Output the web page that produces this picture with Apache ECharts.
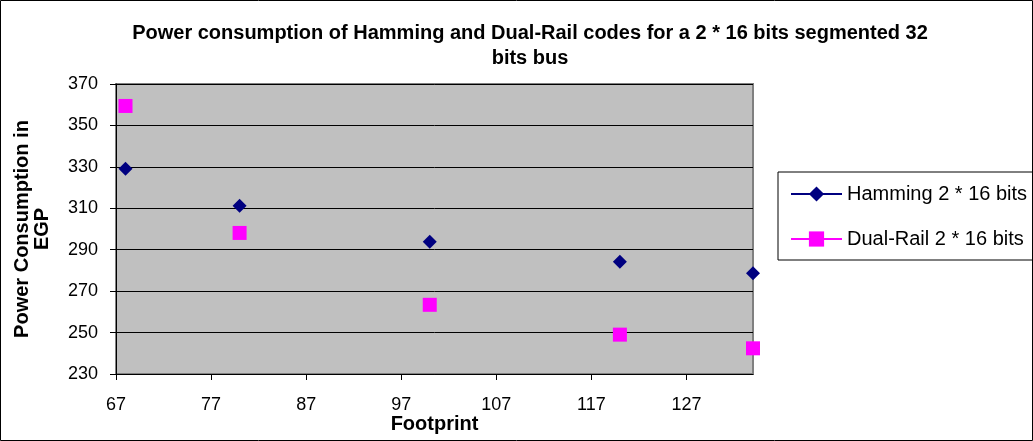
<!DOCTYPE html>
<html><head><meta charset="utf-8">
<script src="https://cdn.jsdelivr.net/npm/echarts@6/dist/echarts.min.js"></script>
<style>html,body{margin:0;padding:0;background:#fff}#c{width:1033px;height:441px}</style>
</head><body><div id="c"></div>
<script>
var footprint = [68, 80, 100, 120, 134];
var hamming = [329.1, 311.2, 293.9, 284.2, 278.6];
var dualRail = [359.4, 298.1, 263.4, 249.0, 242.4];
var seriesNames = ['Hamming 2 * 16 bits', 'Dual-Rail 2 * 16 bits'];
var titleText = 'Power consumption of Hamming and Dual-Rail codes for a 2 * 16 bits segmented 32\nbits bus';
var xName = 'Footprint';
var yName = 'Power Consumption in\nEGP';

function pairs(xs, ys){ return xs.map(function(x,i){ return [x, ys[i]]; }); }
var font = 'Liberation Sans, Arial, sans-serif';
var chart = echarts.init(document.getElementById('c'));
chart.setOption({
  animation: false,
  backgroundColor: '#fff',
  graphic: [{type:'rect', shape:{x:0.5,y:0.5,width:1032,height:440}, style:{fill:'none', stroke:'#000', lineWidth:1}, silent:true}],
  title: {
    text: titleText, left: 525, top: 16, textAlign: 'center',
    textStyle: {fontFamily: font, fontWeight: 'bold', fontSize: 20, color: '#000', lineHeight: 25}
  },
  legend: {
    orient: 'vertical', left: 778, top: 172,
    padding: [12, 8, 11, 12], itemGap: 25,
    itemWidth: 51, itemHeight: 19,
    borderColor: '#000', borderWidth: 1,
    textStyle: {fontFamily: font, fontSize: 20, color: '#000'},
    data: [
      {name: seriesNames[0], itemStyle:{color:'#000080'}, lineStyle:{color:'#000080', width:2, opacity:1}},
      {name: seriesNames[1], itemStyle:{color:'#ff00ff'}, lineStyle:{color:'#ff00ff', width:2, opacity:1}}
    ]
  },
  grid: {left: 116, top: 84, right: 280, bottom: 67, outerBoundsMode: 'none', containLabel: false, show: true, backgroundColor: '#c0c0c0', borderColor: '#808080', borderWidth: 2},
  xAxis: {
    type: 'value', min: 67, max: 134, interval: 10,
    name: xName, nameLocation: 'middle', nameGap: 40, nameMoveOverlap: false,
    nameTextStyle: {fontFamily: font, fontWeight: 'bold', fontSize: 20, color: '#000'},
    axisLine: {show: true, lineStyle: {color: '#000', width: 1}},
    axisTick: {show: true, length: 6, lineStyle: {color: '#000'}},
    axisLabel: {fontFamily: font, fontSize: 18, color: '#000', margin: 22, showMaxLabel: false},
    splitLine: {show: false}
  },
  yAxis: {
    type: 'value', min: 230, max: 370, interval: 20,
    name: yName, nameLocation: 'middle', nameGap: 64, nameRotate: 90, nameMoveOverlap: false,
    nameTextStyle: {fontFamily: font, fontWeight: 'bold', fontSize: 20, color: '#000', lineHeight: 20},
    axisLine: {show: true, lineStyle: {color: '#000', width: 1}},
    axisTick: {show: true, length: 6, lineStyle: {color: '#000'}},
    axisLabel: {fontFamily: font, fontSize: 18, color: '#000', margin: 18},
    splitLine: {show: true, lineStyle: {color: '#000', width: 1}}
  },
  series: [
    {name: seriesNames[0], type: 'line', data: pairs(footprint, hamming), symbol: 'diamond', symbolSize: 14, showSymbol: true,
     itemStyle: {color: '#000080'}, lineStyle: {width: 0, opacity: 0}, z: 3},
    {name: seriesNames[1], type: 'line', data: pairs(footprint, dualRail), symbol: 'rect', symbolSize: 14, showSymbol: true,
     itemStyle: {color: '#ff00ff'}, lineStyle: {width: 0, opacity: 0}, z: 2}
  ]
});
</script></body></html>
